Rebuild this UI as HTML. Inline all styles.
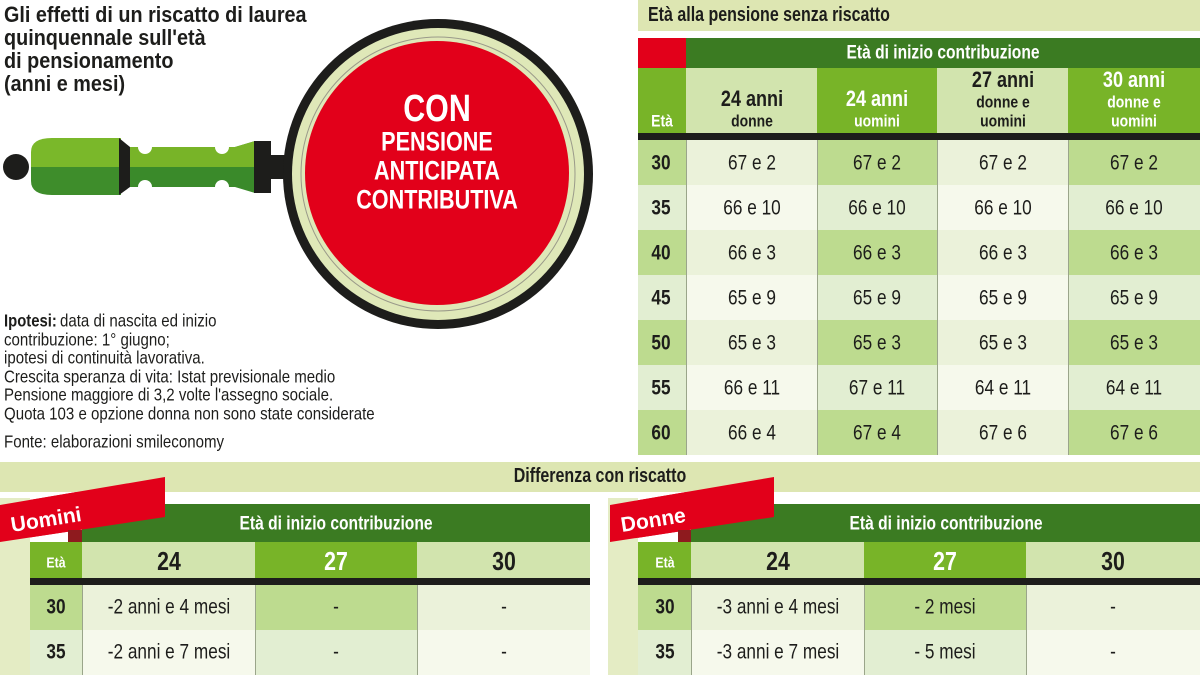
<!DOCTYPE html>
<html><head><meta charset="utf-8">
<style>
html,body{margin:0;padding:0;background:#fff;}
#root{position:relative;width:1200px;height:675px;overflow:hidden;font-family:"Liberation Sans",sans-serif;color:#1d1d1b;}
.t{position:absolute;white-space:nowrap;line-height:1;}
.b{position:absolute;}
</style></head>
<body>
<div id="root">
<svg width="1200" height="675" style="position:absolute;left:0;top:0">
  <circle cx="16" cy="167" r="13" fill="#1d1d1b"/>
  <path d="M31,152 Q31,138 52,138 L121,138 L121,167 L31,167 Z" fill="#7ab82a"/>
  <path d="M31,167 L121,167 L121,195 L52,195 Q31,195 31,181 Z" fill="#3e8d2b"/>
  <polygon points="119,138 130,147 130,187 119,195" fill="#1d1d1b"/>
  <rect x="130" y="147" width="125" height="20" fill="#78b428"/>
  <rect x="130" y="167" width="125" height="20" fill="#3a8a2a"/>
  <polygon points="235,147 255,141 255,193 235,187" fill="#3a8a2a"/>
  <polygon points="235,147 255,141 255,167 235,167" fill="#78b428"/>
  <circle cx="145" cy="147" r="7" fill="#fff"/><circle cx="145" cy="187" r="7" fill="#fff"/>
  <circle cx="222" cy="147" r="7" fill="#fff"/><circle cx="222" cy="187" r="7" fill="#fff"/>
  <rect x="254" y="141" width="17" height="52" fill="#1d1d1b"/>
  <rect x="270" y="155" width="16" height="24" fill="#1d1d1b"/>
  <circle cx="438" cy="174" r="155" fill="#1d1d1b"/>
  <circle cx="438" cy="174" r="146" fill="#dfe8b8"/>
  <circle cx="438" cy="174" r="137" fill="none" stroke="#9a9a8a" stroke-width="1"/>
  <circle cx="437" cy="173" r="132" fill="#e2001a"/>
  <polygon points="0,505 165,477 165,517 0,542" fill="#e2001a"/>
  <polygon points="68,530 82,530 82,542 68,542" fill="#8e1a1e"/>
  <polygon points="610,505 774,477 774,517 610,542" fill="#e2001a"/>
  <polygon points="678,530 691,530 691,542 678,542" fill="#8e1a1e"/>
  <text x="12" y="532" transform="rotate(-9 12 532)" fill="#fff" font-family="Liberation Sans" font-weight="bold" font-size="21">Uomini</text>
  <text x="622" y="532" transform="rotate(-9 622 532)" fill="#fff" font-family="Liberation Sans" font-weight="bold" font-size="21">Donne</text>
</svg>
</div>
<script>
const root=document.getElementById('root');
const ages=[30,35,40,45,50,55,60];
const col24Donne=["67 e 2","66 e 10","66 e 3","65 e 9","65 e 3","66 e 11","66 e 4"];
const col24Uomini=["67 e 2","66 e 10","66 e 3","65 e 9","65 e 3","67 e 11","67 e 4"];
const col27All=["67 e 2","66 e 10","66 e 3","65 e 9","65 e 3","64 e 11","67 e 6"];
const col30All=["67 e 2","66 e 10","66 e 3","65 e 9","65 e 3","64 e 11","67 e 6"];
const diffAges=[30,35];
const uominiDiff24=["-2 anni e 4 mesi","-2 anni e 7 mesi"];
const uominiDiff27=["-","-"];
const uominiDiff30=["-","-"];
const donneDiff24=["-3 anni e 4 mesi","-3 anni e 7 mesi"];
const donneDiff27=["- 2 mesi","- 5 mesi"];
const donneDiff30=["-","-"];

function box(x,y,w,h,bg,name){
  const el=document.createElement('div');
  el.className='b';
  el.style.cssText=`left:${x}px;top:${y}px;width:${w}px;height:${h}px;background:${bg}`;
  
  
  root.appendChild(el);return el;
}
function txt(x,y,s,size,opt,name){
  opt=opt||{};
  const el=document.createElement('div');
  el.className='t';
  el.textContent=s;
  const sx=opt.sx||0.82;
  el.style.left=x+'px';el.style.top=y+'px';
  el.style.fontSize=size+'px';
  el.style.fontWeight=opt.bold?'bold':'normal';
  el.style.color=opt.color||'#1d1d1b';
  if(opt.left){el.style.transformOrigin='0 50%';el.style.transform=`translateY(-50%) scaleX(${sx})`;}
  else{el.style.transform=`translate(-50%,-50%) scaleX(${sx})`;}
  
  
  root.appendChild(el);return el;
}
const titleLines=["Gli effetti di un riscatto di laurea","quinquennale sull'età","di pensionamento","(anni e mesi)"];
titleLines.forEach((l,i)=>txt(4,15+i*23,l,22,{bold:true,left:true,sx:0.9},'chart-title'));
txt(437,109,"CON",38,{bold:true,color:'#fff',sx:0.8},'lens-title');
txt(437,142,"PENSIONE",27,{bold:true,color:'#fff',sx:0.8},'lens-subtitle');
txt(437,171,"ANTICIPATA",27,{bold:true,color:'#fff',sx:0.8},'lens-subtitle');
txt(437,200,"CONTRIBUTIVA",27,{bold:true,color:'#fff',sx:0.8},'lens-subtitle');
const notes=["data di nascita ed inizio","contribuzione: 1° giugno;","ipotesi di continuità lavorativa.","Crescita speranza di vita: Istat previsionale medio","Pensione maggiore  di 3,2 volte l'assegno sociale.","Quota 103 e opzione donna non sono state considerate"];
txt(4,321,"Ipotesi:",17.5,{bold:true,left:true,sx:0.85},'notes-label');
notes.forEach((n,i)=>txt(i==0?60:4,321+i*18.5,n,17.5,{left:true,sx:0.86},'notes-text'));
txt(4,442,"Fonte: elaborazioni smileconomy",17.5,{left:true,sx:0.86},'source-note');

const DG='#3b7b22',BG='#78b428',LH='#d2e4ae',BAND='#dde6b2';
const strong=['#bddb8f','#e2eed2'],weak=['#ebf2da','#f6f9ec'];
box(638,0,562,31,BAND,'top-title-band');
txt(648,15,"Età alla pensione senza riscatto",20,{bold:true,left:true,sx:0.8},'top-table-title');
box(638,38,48,30,'#e2001a','red-corner');
box(686,38,514,30,DG,'header-band');
txt(943,53,"Età di inizio contribuzione",19,{bold:true,color:'#fff'},'header-label');
const cx=[638,686,817,937,1068,1200];
const heads=[["24 anni","donne"],["24 anni","uomini"],["27 anni","donne e","uomini"],["30 anni","donne e","uomini"]];
box(638,68,48,65,BG,'eta-header');
txt(662,121,"Età",17,{bold:true,color:'#fff'},'eta-label');
heads.forEach((h,i)=>{
  const green=i%2==1;
  box(cx[i+1],68,cx[i+2]-cx[i+1],65,green?BG:LH,'column-header');
  const mx=(cx[i+1]+cx[i+2])/2,col=green?'#fff':'#1d1d1b';
  if(h.length==2){txt(mx,99,h[0],22,{bold:true,color:col},'column-header-label');txt(mx,121,h[1],17,{bold:true,color:col},'column-header-label');}
  else{txt(mx,80,h[0],22,{bold:true,color:col},'column-header-label');txt(mx,102,h[1],17,{bold:true,color:col},'column-header-label');txt(mx,121,h[2],17,{bold:true,color:col},'column-header-label');}
});
box(638,133,562,7,'#1d1d1b','header-rule');
const cols=[col24Donne,col24Uomini,col27All,col30All];
ages.forEach((a,r)=>{
  const y=140+r*45,p=r%2;
  box(638,y,48,45,strong[p],'age-cell');
  txt(661,y+23,String(a),21,{bold:true},'age-label');
  cols.forEach((c,i)=>{
    box(cx[i+1],y,cx[i+2]-cx[i+1],45,i%2?strong[p]:weak[p],'value-cell');
    txt((cx[i+1]+cx[i+2])/2,y+23,c[r],21,{},'value-label');
  });
});
[686,817,937,1068].forEach(x=>box(x,140,1,315,'#9aa58a','column-divider'));

box(0,462,1200,30,BAND,'bottom-title-band');
txt(600,476,"Differenza con riscatto",20,{bold:true,sx:0.8},'bottom-title');
function diffTable(x0,xs,c24,c27,c30,nm){
  box(x0-30,498,30,177,'#e4ecc4',nm+'-bg');
  box(xs[1],504,xs[4]-xs[1],38,DG,nm+'-header');
  txt((xs[1]+xs[4])/2,524,"Età di inizio contribuzione",19,{bold:true,color:'#fff'},nm+'-header-label');
  box(xs[0],542,xs[1]-xs[0],36,BG,nm+'-eta-header');
  txt((xs[0]+xs[1])/2,563,"Età",15,{bold:true,color:'#fff'},nm+'-eta-label');
  ["24","27","30"].forEach((h,i)=>{
    box(xs[i+1],542,xs[i+2]-xs[i+1],36,i==1?BG:LH,nm+'-column-header');
    txt((xs[i+1]+xs[i+2])/2,561,h,26,{bold:true,color:i==1?'#fff':'#1d1d1b'},nm+'-column-label');
  });
  box(xs[0],578,xs[4]-xs[0],7,'#1d1d1b',nm+'-rule');
  const cc=[c24,c27,c30];
  diffAges.forEach((a,r)=>{
    const y=585+r*45,p=r%2;
    box(xs[0],y,xs[1]-xs[0],45,strong[p],nm+'-age-cell');
    txt((xs[0]+xs[1])/2,y+22,String(a),21,{bold:true},nm+'-age-label');
    cc.forEach((c,i)=>{
      box(xs[i+1],y,xs[i+2]-xs[i+1],45,i==1?strong[p]:weak[p],nm+'-value-cell');
      txt((xs[i+1]+xs[i+2])/2,y+22,c[r],21,{},nm+'-value-label');
    });
  });
  [xs[1],xs[2],xs[3]].forEach(x=>box(x,585,1,90,'#9aa58a',nm+'-divider'));
}
diffTable(30,[30,82,255,417,590],uominiDiff24,uominiDiff27,uominiDiff30,'uomini-table');
diffTable(638,[638,691,864,1026,1200],donneDiff24,donneDiff27,donneDiff30,'donne-table');
const svg=document.querySelector('svg');
const ov=svg.cloneNode(true);
ov.querySelectorAll('circle,path,rect').forEach(e=>e.remove());
ov.querySelectorAll('polygon').forEach(e=>{const pts=e.getAttribute('points');if(!/^(0,505|68,530|610,505|678,530)/.test(pts))e.remove();});

root.appendChild(ov);
</script>
</body></html>
